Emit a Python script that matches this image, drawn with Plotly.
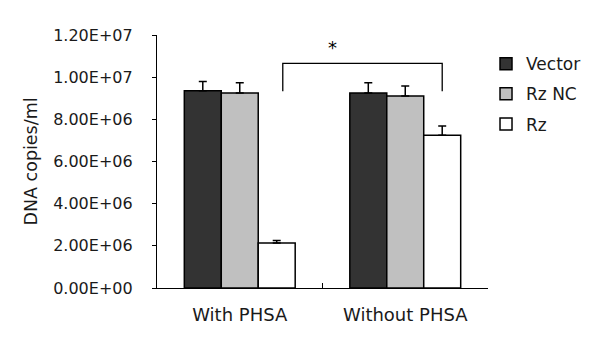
import plotly.graph_objects as go

categories = ["With PHSA", "Without PHSA"]
series_names = ["Vector", "Rz NC", "Rz"]
vector_vals = [9.35e6, 9.25e6]
rznc_vals = [9.25e6, 9.11e6]
rz_vals = [2.13e6, 7.25e6]
vector_err = [0.45e6, 0.48e6]
rznc_err = [0.48e6, 0.47e6]
rz_err = [0.12e6, 0.43e6]
y_tickvals = [0, 2e6, 4e6, 6e6, 8e6, 1e7, 1.2e7]
y_ticktext = ["0.00E+00", "2.00E+06", "4.00E+06", "6.00E+06", "8.00E+06", "1.00E+07", "1.20E+07"]

colors = ["#333333", "#c0c0c0", "#ffffff"]
values = [vector_vals, rznc_vals, rz_vals]
errors = [vector_err, rznc_err, rz_err]

FONT = "DejaVu Sans"
TXT = "#1a1a1a"

fig = go.Figure()
for name, vals, errs, col in zip(series_names, values, errors, colors):
    fig.add_trace(go.Bar(
        name=name, x=categories, y=vals, legendgroup=name,
        marker=dict(color=col, line=dict(color="black", width=1.5)),
        error_y=dict(type="data", array=errs, arrayminus=[0] * len(errs),
                     symmetric=False, color="black", thickness=1.5, width=4),
    ))

# significance bracket
bx0, bx1 = 0.26, 1.2233
by_top, by_bot = 10.65e6, 9.33e6
fig.add_shape(type="path", xref="x", yref="y",
              path=f"M {bx0} {by_bot} L {bx0} {by_top} L {bx1} {by_top} L {bx1} {by_bot}",
              line=dict(color="black", width=1.3))
fig.add_annotation(x=0.56, y=11.4e6, xref="x", yref="y", text="*", showarrow=False,
                   font=dict(family=FONT, size=18, color="black"))

fig.update_layout(
    width=592, height=344,
    margin=dict(l=149, r=112, t=27, b=64, autoexpand=False),
    paper_bgcolor="white", plot_bgcolor="white",
    barmode="group", bargap=0.33, bargroupgap=0,
    font=dict(family=FONT, color=TXT),
    showlegend=True,
    legend=dict(x=0.994, y=0.956, xanchor="left", yanchor="top",
                font=dict(family=FONT, size=17, color=TXT),
                traceorder="grouped", tracegroupgap=5, itemwidth=30,
                bgcolor="rgba(0,0,0,0)"),
    xaxis=dict(showline=True, linecolor="black", linewidth=1.3,
               ticks="inside", tickson="boundaries", ticklen=5, tickcolor="black",
               tickfont=dict(family=FONT, size=18, color=TXT),
               ticklabelstandoff=10, showgrid=False, zeroline=False, automargin=False),
    yaxis=dict(range=[0, 1.2e7], tickvals=y_tickvals, ticktext=y_ticktext,
               showline=True, linecolor="black", linewidth=1.3,
               ticks="outside", ticklen=4, tickcolor="black",
               tickfont=dict(family=FONT, size=16, color=TXT),
               ticklabelstandoff=16, showgrid=False, zeroline=False, automargin=False,
               title=dict(text="DNA copies/ml", font=dict(family=FONT, size=17.5, color=TXT),
                          standoff=11)),
)

fig.write_html("out.html")
